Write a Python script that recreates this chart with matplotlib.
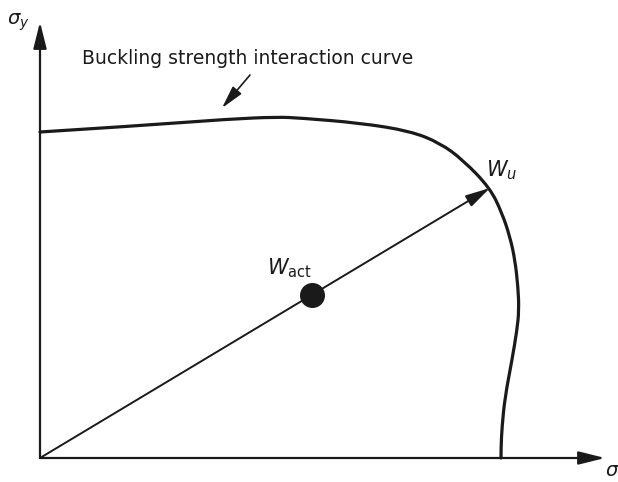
import numpy as np
import matplotlib.pyplot as plt
from matplotlib.path import Path
from matplotlib.patches import PathPatch

# interaction curve (origin at the axes corner)
curve_x = [0, 95, 190, 237, 260, 320, 370, 400, 423, 450, 462, 470,
           475, 478, 479, 477, 472, 465, 462, 461, 461]
curve_y = [326, 332, 339, 341, 340, 335, 327, 315, 298, 270, 245, 221,
           198, 171, 148, 128, 98, 61, 31, 10, 0]

w_u = (450, 270)
w_act = (272, 163)
label_text = 'Buckling strength interaction curve'

fig = plt.figure(figsize=(6.18, 4.82), dpi=100)
ax = fig.add_axes([0, 0, 1, 1])
ax.set_xlim(-40, 578)
ax.set_ylim(-24, 458)
ax.axis('off')

col = '#1a1a1a'
head = dict(arrowstyle='-|>,head_length=1.6,head_width=0.4', color=col, lw=1.6,
            shrinkA=0, shrinkB=0)

# axes with arrows
ax.annotate('', xy=(0, 436), xytext=(0, 0), arrowprops=head)
ax.annotate('', xy=(565, 0), xytext=(0, 0), arrowprops=head)

# smooth curve: quadratic pieces through the midpoints of the read points
pts = np.column_stack([curve_x, curve_y]).astype(float)
verts = [pts[0]]
codes = [Path.MOVETO]
for i in range(1, len(pts) - 1):
    end = pts[i + 1] if i == len(pts) - 2 else (pts[i] + pts[i + 1]) / 2
    verts += [pts[i], end]
    codes += [Path.CURVE3, Path.CURVE3]
ax.add_patch(PathPatch(Path(verts, codes), fill=False, edgecolor=col, lw=2.3,
                       capstyle='round', joinstyle='round'))

# load path to the ultimate point
ax.annotate('', xy=w_u, xytext=(0, 0),
            arrowprops=dict(arrowstyle='-|>,head_length=1.5,head_width=0.38', color=col,
                            lw=1.4, shrinkA=0, shrinkB=0))
ax.plot(*w_act, 'o', color=col, markersize=17)

ax.text(208, 400, label_text, ha='center', va='center', fontsize=13.5, color=col)
ax.annotate('', xy=(182, 350), xytext=(210, 383),
            arrowprops=dict(arrowstyle='-|>,head_length=1.4,head_width=0.35', color=col,
                            lw=1.2, shrinkA=0, shrinkB=0))

plt.rcParams['mathtext.fontset'] = 'dejavusans'
ax.text(-22, 436, r'$\sigma_y$', ha='center', va='center', fontsize=14, color=col)
ax.text(572, -12, r'$\sigma$', ha='center', va='center', fontsize=14, color=col)
ax.text(462, 288, r'$W_u$', ha='center', va='center', fontsize=15, color=col)
ax.text(250, 190, r'$W_{\mathrm{act}}$', ha='center', va='center', fontsize=15, color=col)

fig.savefig('out.png', dpi=100)
